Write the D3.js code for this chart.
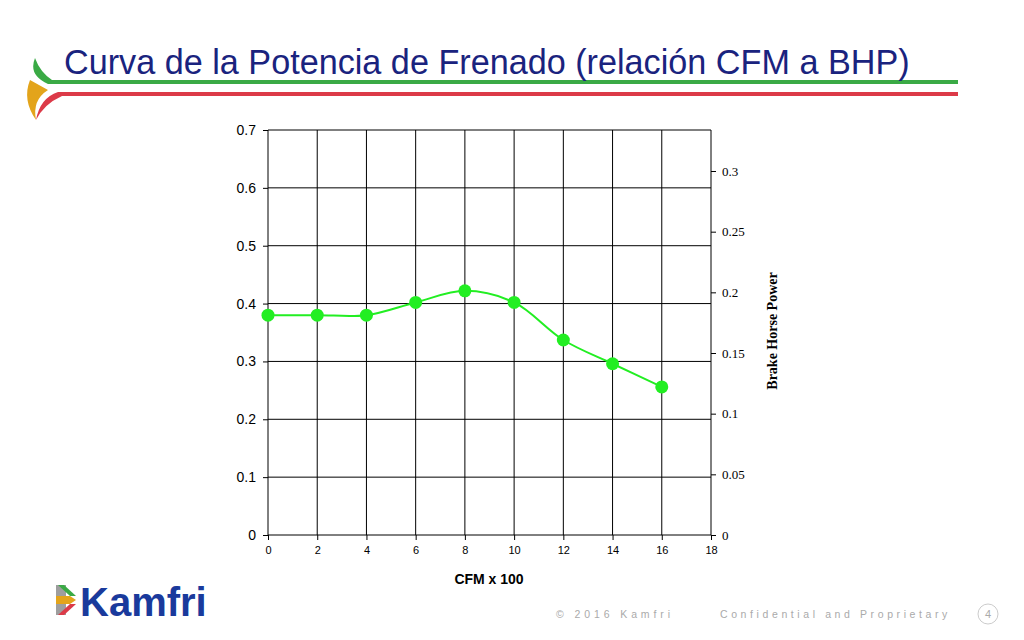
<!DOCTYPE html><html><head><meta charset="utf-8"><script src="https://cdn.jsdelivr.net/npm/d3@7"></script>
<style>body{margin:0;background:#fff}</style></head><body><svg id="c" width="1024" height="640"></svg>
<script>
const xValues=[0,2,4,6,8,10,12,14,16];
const yValues=[0.38,0.38,0.38,0.402,0.422,0.402,0.337,0.296,0.256];
const leftTicks=[0,0.1,0.2,0.3,0.4,0.5,0.6,0.7];
const rightTicks=[0,0.05,0.1,0.15,0.2,0.25,0.3];
const xTicks=[0,2,4,6,8,10,12,14,16,18];
const svg=d3.select("#c");
svg.append("path").attr("d","M35,58 Q28,75 48,84 L958,84 L958,80 L52,80 Q40,72 35,58Z").attr("fill","#3aaa45");
svg.append("path").attr("d","M30,80 Q22,100 36,120 Q32,100 48,90 Z").attr("fill","#e3a41b");
svg.append("path").attr("d","M36,120 Q40,98 58,92 L958,92 L958,96 L62,96 Q44,104 36,120Z").attr("fill","#dc3a48");
svg.append("text").attr("x",64).attr("y",74).attr("font-family","Liberation Sans, Arial").attr("font-size",34.2).attr("fill","#1a237e").text("Curva de la Potencia de Frenado (relación CFM a BHP)");
const L=268,R=711,T=130,B=535;
const x=d3.scaleLinear().domain([0,18]).range([L,R]);
const y=d3.scaleLinear().domain([0,0.7]).range([B,T]);
const y2=d3.scaleLinear().domain([0,0.3338]).range([B,T]);
const g=svg.append("g");
g.selectAll(".v").data(xTicks).join("line").attr("x1",d=>x(d)).attr("x2",d=>x(d)).attr("y1",T).attr("y2",B).attr("stroke","#000").attr("stroke-width",1);
g.selectAll(".h").data(leftTicks).join("line").attr("x1",L).attr("x2",R).attr("y1",d=>y(d)).attr("y2",d=>y(d)).attr("stroke","#000").attr("stroke-width",1);
g.append("g").attr("transform",`translate(${L},0)`).call(d3.axisLeft(y).tickValues(leftTicks).tickFormat(d=>d===0?"0":d3.format(".1f")(d)).tickSize(5).tickPadding(7))
 .call(a=>{a.select(".domain").remove();a.selectAll("text").attr("font-family","Liberation Sans, Arial").attr("font-size",14);});
g.append("g").attr("transform",`translate(0,${B})`).call(d3.axisBottom(x).tickValues(xTicks).tickSize(5).tickPadding(6))
 .call(a=>{a.select(".domain").remove();a.selectAll("text").attr("font-family","Liberation Sans, Arial").attr("font-size",11);});
g.append("g").attr("transform",`translate(${R},0)`).call(d3.axisRight(y2).tickValues(rightTicks).tickFormat(d=>String(d)).tickSize(5).tickPadding(6))
 .call(a=>{a.select(".domain").remove();a.selectAll("text").attr("font-family","Liberation Serif, Times New Roman").attr("font-size",13);});
svg.append("text").attr("x",489).attr("y",584).attr("text-anchor","middle").attr("font-family","Liberation Sans, Arial").attr("font-weight","bold").attr("font-size",14).text("CFM x 100");
svg.append("text").attr("transform","translate(777,331) rotate(-90)").attr("text-anchor","middle").attr("font-family","Liberation Serif, Times New Roman").attr("font-weight","bold").attr("font-size",14).text("Brake Horse Power");
const data=xValues.map((v,i)=>[v,yValues[i]]);
svg.append("path").attr("d",d3.line().x(d=>x(d[0])).y(d=>y(d[1])).curve(d3.curveCatmullRom)(data)).attr("fill","none").attr("stroke","#22ee22").attr("stroke-width",2);
svg.selectAll(".p").data(data).join("circle").attr("cx",d=>x(d[0])).attr("cy",d=>y(d[1])).attr("r",6.5).attr("fill","#22ee22");
const lg=svg.append("g");
lg.append("rect").attr("x",56).attr("y",585).attr("width",10).attr("height",30).attr("fill","#9e9e9e");
lg.append("path").attr("d","M56,596 L70,596 L76,600 L70,604 L56,604Z").attr("fill","#e3a41b");
lg.append("path").attr("d","M58,585 L70,596 L76,596 L64,585Z").attr("fill","#3aaa45");
lg.append("path").attr("d","M58,615 L70,604 L76,604 L64,615Z").attr("fill","#dc3a48");
svg.append("text").attr("x",80).attr("y",616).attr("font-family","Liberation Sans, Arial").attr("font-weight","bold").attr("font-size",40).attr("fill","#1a3a9c").text("Kamfri");
svg.append("text").attr("x",556).attr("y",618).attr("font-family","Liberation Sans, Arial").attr("font-size",10.5).attr("letter-spacing","3.9").attr("fill","#aaa").text("© 2016 Kamfri");
svg.append("text").attr("x",720).attr("y",618).attr("font-family","Liberation Sans, Arial").attr("font-size",10.5).attr("letter-spacing","3.6").attr("fill","#aaa").text("Confidential and Proprietary");
svg.append("circle").attr("cx",988).attr("cy",614).attr("r",10).attr("fill","none").attr("stroke","#ccc");
svg.append("text").attr("x",988).attr("y",618).attr("text-anchor","middle").attr("font-family","Liberation Sans, Arial").attr("font-size",11).attr("fill","#aaa").text("4");
</script></body></html>
